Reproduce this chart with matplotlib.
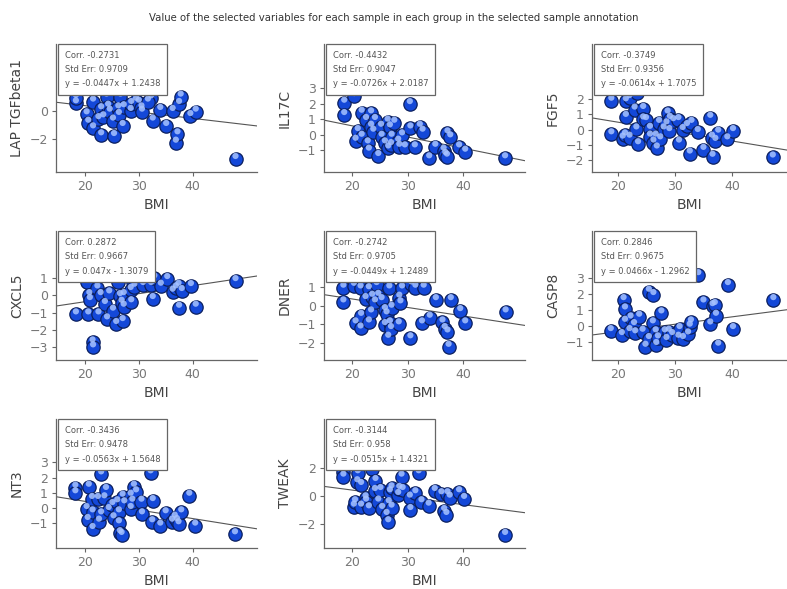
import matplotlib
matplotlib.use("Agg")
import matplotlib.pyplot as plt
import matplotlib.transforms as mtransforms
import numpy as np

TITLE = "Value of the selected variables for each sample in each group in the selected sample annotation"
XLABEL = "BMI"

names = ["LAP TGFbeta1", "IL17C", "FGF5", "CXCL5", "DNER", "CASP8", "NT3", "TWEAK"]
corr = ["-0.2731", "-0.4432", "-0.3749", "0.2872", "-0.2742", "0.2846", "-0.3436", "-0.3144"]
stderr = ["0.9709", "0.9047", "0.9356", "0.9667", "0.9705", "0.9675", "0.9478", "0.958"]
slope = [-0.0447, -0.0726, -0.0614, 0.047, -0.0449, 0.0466, -0.0563, -0.0515]
intercept = [1.2438, 2.0187, 1.7075, -1.3079, 1.2489, -1.2962, 1.5648, 1.4321]

x_tgfb = [18.3, 18.3, 20.3, 20.6, 21.5, 21.5, 22.5, 23.0, 23.0, 23.4, 24.0, 24.3, 24.6, 25.2, 25.4,
          26.2, 26.3, 26.6, 27.0, 27.2, 28.5, 28.6, 29.5, 30.0, 30.5, 30.6, 32.3, 31.7, 32.6, 34.0,
          35.1, 36.3, 36.9, 37.2, 37.5, 37.8, 39.6, 40.6, 48.0]
y_tgfb = [0.52, 0.9, -0.26, -0.85, 0.64, -1.25, -0.6, 0.1, -1.74, -0.47, 0.99, 0.28, -0.07, -0.7, -1.79,
          0.16, -0.3, 0.99, -1.08, 0.24, -0.02, 0.47, 0.7, 0.56, 0.16, -0.07, 0.87, 0.64, -0.7, 0.05,
          -1.08, -0.02, -2.26, -1.67, 0.47, 0.99, -0.38, -0.07, -3.41]

x_il17c = [18.55, 18.55, 20.36, 20.6, 21.0, 21.7, 21.7, 22.5, 22.8, 23.0, 23.4, 23.4, 23.8, 24.1, 24.7,
           25.2, 25.3, 25.9, 26.4, 26.5, 26.8, 27.0, 27.1, 27.6, 28.3, 28.5, 29.0, 29.5, 30.4, 30.5,
           31.3, 32.2, 32.7, 33.9, 35.0, 36.5, 36.8, 37.1, 37.2, 37.7, 39.3, 40.4, 47.6]
y_il17c = [2.07, 1.27, 2.5, -0.4, 0.23, 1.42, -0.14, 0.95, -0.57, -1.04, 1.38, 0.51, 0.19, 0.95, -1.39,
           0.51, -0.14, -0.57, 0.84, -0.9, 0.47, -0.68, -0.14, 0.77, -0.46, -0.79, -0.05, -0.83, 1.98, 0.4,
           -0.83, 0.51, 0.19, -1.54, -0.79, -1.04, -1.32, -1.43, 0.08, -0.18, -0.83, -1.11, -1.54]

x_fgf5 = [18.8, 18.8, 20.8, 21.2, 21.35, 21.35, 22.0, 22.0, 22.9, 23.2, 23.5, 23.35, 24.4, 24.4, 24.9,
          25.6, 25.6, 26.2, 26.6, 26.8, 27.2, 27.4, 28.0, 28.5, 28.7, 29.0, 29.1, 29.7, 30.6, 30.7,
          31.35, 32.1, 32.6, 32.9, 34.0, 35.0, 36.2, 36.5, 36.6, 37.1, 37.6, 39.2, 40.2, 47.2]
y_fgf5 = [1.89, -0.31, -0.59, -0.38, 1.85, 0.83, 2.06, -0.53, 1.31, 0.01, -0.96, 2.39, 1.35, 0.66, 0.62,
          0.05, -0.46, -0.85, -0.46, -1.24, 0.44, -0.64, 0.01, 0.34, 1.05, -0.1, 0.7, 0.55, 0.62, -0.85,
          -0.03, 0.23, -1.57, 0.44, -0.16, -1.33, 0.77, -0.53, -1.78, -0.74, -0.2, -0.64, -0.1, -1.83]

x_cxcl5 = [18.3, 20.3, 20.6, 20.8, 20.9, 21.4, 21.5, 22.3, 22.5, 22.9, 23.7, 24.1, 24.5, 25.2, 25.8,
           26.2, 26.5, 26.8, 27.0, 27.2, 27.2, 28.5, 28.6, 28.9, 29.2, 30.8, 32.3, 32.6, 32.9, 34.1,
           35.3, 36.3, 36.9, 37.4, 37.5, 38.0, 39.7, 40.6, 48.0]
y_cxcl5 = [-1.11, 0.77, -1.11, 0.02, -0.27, -2.75, -3.04, 0.41, -1.11, 0.02, -0.5, -1.4, 0.12, -0.89, -1.67,
           0.8, -0.04, -0.43, -1.5, 0.02, -0.66, 0.32, -0.4, 0.77, 0.51, 0.61, 0.61, -0.21, 1.0, 0.57,
           0.96, 0.22, 0.41, 0.57, -0.72, 0.26, 0.55, -0.66, 0.84]

x_dner = [18.4, 18.4, 20.3, 20.6, 21.5, 21.5, 21.6, 22.4, 23.0, 23.0, 23.4, 23.6, 24.1, 24.4, 24.7,
          25.3, 25.9, 25.9, 26.2, 26.5, 26.7, 26.8, 27.0, 27.1, 28.4, 28.5, 28.7, 29.0, 30.5, 30.7,
          31.4, 32.6, 32.9, 34.0, 35.1, 36.3, 36.7, 37.2, 37.4, 37.8, 39.5, 40.4, 47.7]
y_dner = [0.95, 0.17, 1.05, -0.94, 0.91, -1.21, -0.54, 0.35, 0.87, -0.89, -0.36, 0.47, 0.17, 1.09, 0.52,
          0.29, -1.03, -0.24, -0.46, -1.7, 0.91, -0.94, -1.24, -0.11, -0.99, 0.42, 0.12, 0.91, -1.73, 1.12,
          0.95, -0.94, 0.95, -0.64, 0.29, -0.89, -1.24, -1.42, -2.18, 0.29, -0.29, -0.94, -0.36]

x_casp8 = [18.7, 20.65, 20.95, 21.2, 21.2, 22.0, 22.2, 22.8, 23.0, 23.7, 24.3, 24.8, 25.4, 25.4, 26.2,
           26.1, 26.6, 26.7, 27.0, 27.6, 28.2, 28.5, 28.9, 29.5, 30.6, 30.8, 31.4, 32.3, 32.6, 32.8,
           34.1, 35.0, 36.2, 36.6, 37.0, 37.2, 37.6, 39.3, 40.2, 47.3]
y_casp8 = [-0.33, -0.58, 1.63, 1.04, 0.26, -0.33, 0.47, 0.05, -0.47, 0.58, -0.37, -1.32, 2.16, -0.83, 1.95,
           0.16, -0.41, -1.21, -0.79, 0.79, -0.41, -0.89, -0.37, -0.58, -0.75, -0.2, -0.83, -0.54, -0.05, 0.22,
           3.21, 1.48, 0.09, 1.25, 1.32, 0.64, -1.25, 2.58, -0.2, 1.63]

x_nt3 = [18.2, 18.2, 20.3, 20.5, 20.7, 21.4, 21.4, 21.3, 22.4, 22.6, 23.0, 23.0, 23.6, 23.9, 24.4,
         25.1, 25.3, 26.0, 26.3, 26.3, 26.5, 26.8, 27.0, 27.3, 28.5, 28.5, 28.8, 29.1, 29.5, 30.5,
         30.6, 32.2, 32.5, 32.6, 34.0, 35.0, 36.2, 36.7, 37.1, 37.4, 37.9, 39.4, 40.5, 47.9]
y_nt3 = [1.34, 0.97, -0.06, -0.78, 1.4, -0.28, -1.37, 0.6, 0.6, -0.89, 2.21, -0.41, 0.64, 1.19, -0.13,
         0.2, -0.67, 0.38, -0.28, -1.0, -1.65, -1.76, 0.75, 0.31, 0.81, -0.06, 0.42, 1.4, 1.03, 0.42,
         -0.41, 2.28, -0.93, 0.46, -1.15, -0.34, -0.89, -0.63, -0.85, -1.06, -0.28, 0.81, -1.15, -1.72]

x_tweak = [18.4, 18.4, 20.3, 20.5, 20.9, 21.0, 21.6, 21.6, 22.4, 22.5, 23.0, 23.6, 24.1, 24.2, 24.7,
           25.1, 25.4, 26.2, 26.5, 26.6, 26.8, 27.1, 27.1, 28.3, 28.5, 28.9, 29.1, 30.4, 30.5, 31.4,
           32.0, 32.5, 33.8, 34.9, 36.1, 36.6, 37.0, 37.2, 37.6, 39.3, 40.2, 47.6]
y_tweak = [1.72, 1.36, -0.77, -0.46, 0.96, 1.6, 0.77, -0.77, -0.18, -0.41, -0.89, 1.91, 0.34, 1.05, -0.41,
           0.41, -0.93, -1.36, -1.88, -0.53, 0.25, -0.84, 0.53, 0.06, 0.49, 1.36, 0.41, -0.13, -1.01, 0.18,
           1.6, -0.46, -0.7, 0.34, 0.11, -1.08, -1.36, 0.11, -0.13, 0.25, -0.22, -2.78]

xs = [x_tgfb, x_il17c, x_fgf5, x_cxcl5, x_dner, x_casp8, x_nt3, x_tweak]
ys = [y_tgfb, y_il17c, y_fgf5, y_cxcl5, y_dner, y_casp8, y_nt3, y_tweak]

yticks = [[-2, 0], [-1, 0, 1, 2, 3], [-2, -1, 0, 1, 2], [-3, -2, -1, 0, 1],
          [-2, -1, 0, 1], [-1, 0, 1, 2, 3], [-1, 0, 1, 2, 3], [-2, 0, 2]]
ylims = [(-4.33, 4.7), (-2.43, 5.88), (-2.78, 5.6), (-3.78, 3.77),
         (-2.88, 3.95), (-2.16, 6.0), (-2.62, 5.84), (-3.71, 5.45)]
xticks = [20, 30, 40]

W, H = 787, 589
fig = plt.figure(figsize=(W / 100, H / 100), dpi=100)
plt.rcParams['font.family'] = ['DejaVu Sans']

col_px = [(56, 257, (14.6, 52.0)), (324, 525, (14.9, 51.2)), (592, 787, (15.4, 49.7))]
row_px = [(44, 172), (231, 360), (419, 548)]

fig.text(0.5, 1 - 18 / H, TITLE, ha='center', va='center', fontsize=7.3, color='#333333')

for i, name in enumerate(names):
    r, c = divmod(i, 3)
    l, rt, xl = col_px[c]
    t, b = row_px[r]
    aw, ah = rt - l, b - t
    ax = fig.add_axes([l / W, 1 - b / H, aw / W, ah / H])
    ax.set_xlim(*xl)
    ax.set_ylim(*ylims[i])
    for s in ['top', 'right']:
        ax.spines[s].set_visible(False)
    for s in ['left', 'bottom']:
        ax.spines[s].set_color('#666666')
        ax.spines[s].set_linewidth(0.9)
    ax.set_xticks(xticks)
    ax.set_yticks(yticks[i])
    ax.tick_params(length=3, width=0.8, color='#666666', labelsize=9, labelcolor='#777777', pad=3)
    ax.set_xlabel(XLABEL, fontsize=10, color='#444444', va='center')
    ax.set_ylabel(name, fontsize=10, color='#444444', va='center')
    ax.xaxis.set_label_coords(0.5, -33 / ah)
    ax.yaxis.set_label_coords(-39 / aw, 0.5)

    lx = np.array(xl)
    ax.plot(lx, slope[i] * lx + intercept[i], color='#555555', lw=0.8, zorder=2)

    ax.scatter(xs[i], ys[i], s=92, color='#1448d8', edgecolors='#0b1f5e', linewidths=0.9, zorder=3)
    hl = mtransforms.offset_copy(ax.transData, fig=fig, x=0, y=3, units='dots')
    ax.scatter(xs[i], ys[i], s=20, color='#a6c2ff', edgecolors='none', alpha=0.85, zorder=4, transform=hl)

    txt = f"Corr. {corr[i]}\nStd Err: {stderr[i]}\ny = {slope[i]}x " + \
          (f"+ {intercept[i]}" if intercept[i] >= 0 else f"- {abs(intercept[i])}")
    ax.annotate(txt, xy=(0, 1), xycoords='axes fraction', xytext=(9, -7),
                textcoords='offset pixels', ha='left', va='top', fontsize=6.0,
                color='#555555', linespacing=1.75, zorder=10,
                bbox=dict(boxstyle='square,pad=0.8', fc='white', ec='#666666', lw=0.9))

fig.savefig('out.png', dpi=100)
